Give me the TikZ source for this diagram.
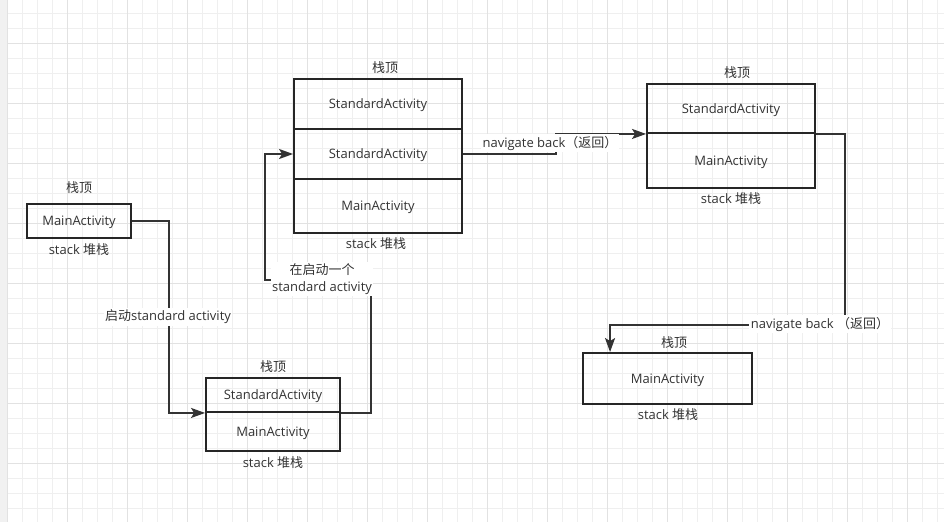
\documentclass[tikz,border=0pt]{standalone}
\usepackage{fontspec}
\setmainfont{Open Sans}
\newfontfamily\cjk{Noto Sans CJK SC}
\usepackage{xcolor}
\usetikzlibrary{arrows.meta,positioning}
\definecolor{txt}{HTML}{333333}
\definecolor{gridminor}{HTML}{EFEFEF}
\definecolor{gridmajor}{HTML}{E2E2E2}
\definecolor{band}{HTML}{F1F1F1}
\newcommand{\dfont}{\fontsize{13}{17}\selectfont}
\tikzstyle{cell} = [draw=black!85, line width=1.9pt, inner sep=0pt, text depth=0pt, text=txt, font=\dfont]
\tikzstyle{conn} = [draw=black!80, line width=1.7pt, -{Stealth[length=14pt,width=10pt,inset=3pt]}]
\tikzstyle{lbl} = [fill=white, inner sep=1.5pt, text=txt, font=\dfont, align=center]
\tikzstyle{note} = [inner sep=0pt, text=txt, font=\dfont]

\begin{document}
\begin{tikzpicture}[x=1pt,y=-1pt]
\useasboundingbox (0,0) rectangle (944,522);
% background grid
\fill[white] (0,0) rectangle (944,522);
\fill[band] (0,0) rectangle (7.7,522);
\foreach \i in {0,...,62} \draw[gridminor,line width=1pt] ({7.7+15*\i},0) -- ++(0,522);
\foreach \i in {0,...,33} \draw[gridminor,line width=1pt] (7.7,{13.3+15*\i}) -- ++(940,0);
\foreach \i in {0,...,15} \draw[gridmajor,line width=1pt] ({7.7+60*\i},0) -- ++(0,522);
\foreach \i in {0,...,7} \draw[gridmajor,line width=1pt] (7.7,{43.3+60*\i}) -- ++(940,0);

% stack 1
\node[cell, minimum width=104pt, minimum height=34pt] (a) at (79,221) {MainActivity};
\node[note] (atop) at (79,188) {\cjk 栈顶};
\node[note] (abot) at (79,250) {stack {\cjk 堆栈}};

% stack 2
\node[cell, minimum width=134pt, minimum height=34pt] (b1) at (273,395) {StandardActivity};
\node[cell, minimum width=134pt, minimum height=39pt] (b2) at (273,431.5) {MainActivity};
\node[note] (btop) at (273,367) {\cjk 栈顶};
\node[note] (bbot) at (273,463) {stack {\cjk 堆栈}};

% stack 3
\node[cell, minimum width=168pt, minimum height=50pt] (c1) at (378,104) {StandardActivity};
\node[cell, minimum width=168pt, minimum height=50pt] (c2) at (378,154) {StandardActivity};
\node[cell, minimum width=168pt, minimum height=54pt] (c3) at (378,206) {MainActivity};
\node[note] (ctop) at (385,68) {\cjk 栈顶};
\node[note] (cbot) at (376,244) {stack {\cjk 堆栈}};

% stack 4
\node[cell, minimum width=168pt, minimum height=49pt] (d1) at (731,108.5) {StandardActivity};
\node[cell, minimum width=168pt, minimum height=55pt] (d2) at (731,160.5) {MainActivity};
\node[note] (dtop) at (737,73) {\cjk 栈顶};
\node[note] (dbot) at (731,199) {stack {\cjk 堆栈}};

% stack 5
\node[cell, minimum width=169pt, minimum height=51pt] (e) at (667.5,378.5) {MainActivity};
\node[note] (etop) at (674,343) {\cjk 栈顶};
\node[note] (ebot) at (668,415) {stack {\cjk 堆栈}};

% connectors
\draw[conn] (a.east) -- ++(37,0) |- (b1.south west);
\draw[conn] (b1.south east) -- ++(30,0) -- ++(0,-133) -- ++(-106,0) |- (c2.west);
\draw[conn] (c2.east) -- ++(93,0) |- (d1.south west);
\draw[conn] (d1.south east) -- ++(29,0) -- ++(0,191) -| ([xshift=28pt]e.north west);

% connector labels
\node[lbl] (l1) at (168,317) {{\cjk 启动}standard activity};
\node[lbl] (l2) at (322,279) {{\cjk 在启动一个}\\standard activity};
\node[lbl] (l3) at (550,143) {navigate back{\cjk （返回）}};
\node[lbl] (l4) at (820,324) {navigate back {\cjk （返回）}};
\end{tikzpicture}
\end{document}
